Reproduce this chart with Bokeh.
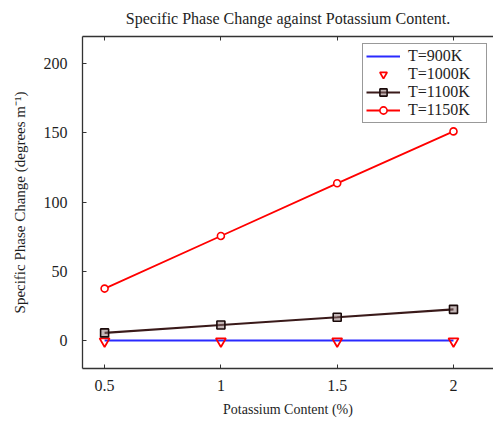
from bokeh.plotting import figure
from bokeh.models import Range1d, LinearAxis, FixedTicker
from bokeh.embed import file_html
from bokeh.resources import INLINE

potassium = [0.5, 1.0, 1.5, 2.0]
t900 = [0.0, 0.0, 0.0, 0.0]
t1000 = [-0.5, -0.5, -0.5, -0.5]
t1100 = [5.5, 11.2, 16.8, 22.5]
t1150 = [37.5, 75.5, 113.5, 151.0]

x_ticks = [0.5, 1.0, 1.5, 2.0]
x_tick_labels = ["0.5", "1", "1.5", "2"]
y_ticks = [0, 50, 100, 150, 200]

FONT = "Liberation Serif"
INK = "#1e1e1e"

p = figure(width=493, height=424, output_backend="svg", toolbar_location=None,
           frame_width=411, frame_height=332,
           x_range=Range1d(0.405, 2.172), y_range=Range1d(-20.2, 219.5),
           title="Specific Phase Change against Potassium Content.")
p.min_border_left = 82
p.min_border_right = 0
p.min_border_top = 36
p.min_border_bottom = 56

p.title.align = "center"
p.title.vertical_align = "top"
p.title.text_font = FONT
p.title.text_font_style = "normal"
p.title.text_font_size = "16px"
p.title.text_color = INK
p.title.standoff = 16

p.xgrid.visible = False
p.ygrid.visible = False
p.outline_line_color = None

for ax in (p.xaxis[0], p.yaxis[0]):
    ax.major_tick_in = 4
    ax.major_tick_out = 0
    ax.minor_tick_line_color = None
    ax.axis_line_color = "#333333"
    ax.axis_line_width = 1.3
    ax.major_tick_line_color = "#333333"
    ax.major_label_text_font = FONT
    ax.major_label_text_font_size = "16px"
    ax.major_label_text_color = INK
    ax.axis_label_text_font = FONT
    ax.axis_label_text_font_style = "normal"
    ax.axis_label_text_font_size = "14px"
    ax.axis_label_text_color = INK

p.xaxis[0].ticker = FixedTicker(ticks=x_ticks)
p.yaxis[0].ticker = FixedTicker(ticks=y_ticks)
p.xaxis[0].major_label_overrides = dict(zip(x_ticks, x_tick_labels))
p.xaxis[0].major_label_standoff = 11
p.yaxis[0].major_label_standoff = 15
p.xaxis[0].axis_label = "Potassium Content (%)"
p.yaxis[0].axis_label = "Specific Phase Change (degrees m\u207b\u00b9)"
p.yaxis[0].axis_label_text_font_size = "15px"
p.xaxis[0].axis_label_standoff = 8
p.yaxis[0].axis_label_standoff = 13

top = LinearAxis(ticker=FixedTicker(ticks=x_ticks), major_tick_in=4, major_tick_out=0,
                 minor_tick_line_color=None, major_label_text_color=None,
                 major_label_text_font_size="1px",
                 major_label_standoff=0, axis_line_color="#333333", axis_line_width=1.3,
                 major_tick_line_color="#333333")
p.add_layout(top, "above")

p.line(potassium, t900, line_color="#2a2aff", line_width=2, legend_label="T=900K")
p.scatter(potassium, t1000, marker="inverted_triangle", size=10, line_color="red",
          fill_color="white", fill_alpha=0.0, line_width=1.8, legend_label="T=1000K")
p.line(potassium, t1100, line_color="#3a1a1a", line_width=2.2, legend_label="T=1100K")
p.scatter(potassium, t1100, marker="square", size=8, line_color="#1a0a0a",
          fill_color="#8a7070", fill_alpha=0.5, line_width=1.6, legend_label="T=1100K")
p.line(potassium, t1150, line_color="red", line_width=1.8, legend_label="T=1150K")
p.scatter(potassium, t1150, marker="circle", size=7, line_color="red",
          fill_color="white", line_width=1.6, legend_label="T=1150K")

lg = p.legend[0]
lg.location = (280, 245)
lg.margin = 0
lg.padding = 3
lg.spacing = 0
lg.label_text_font = "serif"
lg.label_text_font_style = "normal"
lg.label_text_font_size = "16px"
lg.label_text_color = INK
lg.label_height = 18
lg.label_width = 75
lg.label_standoff = 8
lg.glyph_height = 18
lg.glyph_width = 34
lg.border_line_color = "#333333"
lg.border_line_width = 1.3
lg.background_fill_alpha = 1.0

open("out.html", "w").write(file_html(p, INLINE))
